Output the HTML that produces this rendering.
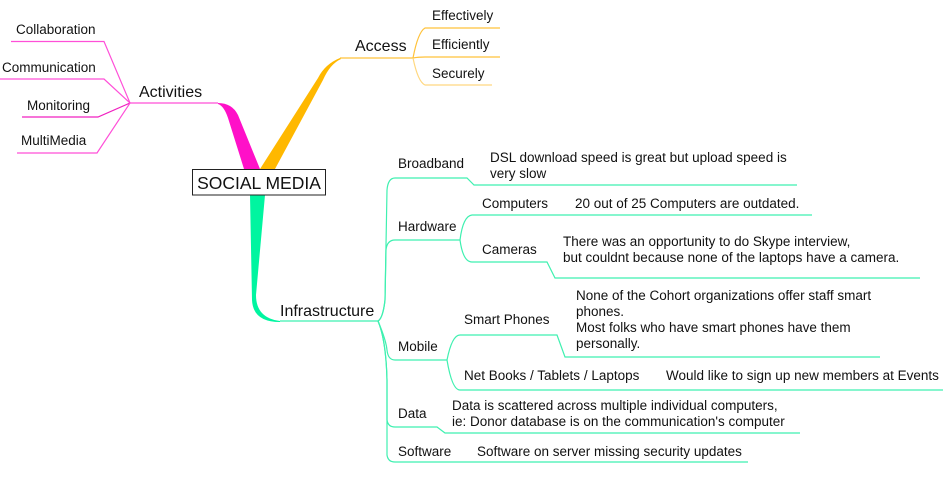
<!DOCTYPE html>
<html><head><meta charset="utf-8"><style>
body{margin:0;background:#fff;}
svg{display:block;font-family:"Liberation Sans",sans-serif;}
text{font-size:13.5px;fill:#111;}
</style></head><body>
<svg width="943" height="480" viewBox="0 0 943 480">
<g fill="none" stroke-width="1.2">
<g stroke="#ff4fd8">
<path d="M11,41.5 H104 L130,103"/>
<path d="M0,79 H104 L130,103"/>
<path d="M22,117 H98 L130,103" stroke="#f020c0"/>
<path d="M17,153 H97 L130,103"/>
<path d="M130,103 H218"/>
</g>
<g stroke="#ffc23a">
<path d="M340,58 H413"/>
<path d="M413,58 Q418,32 425,28 H500"/>
<path d="M413,58 Q418,57 425,57 H500"/>
<path d="M413,58 Q418,82 425,85 H492" stroke="#ffd880"/>
</g>
<g stroke="#3ff0b0">
<path d="M280,321 H378"/>
<path d="M378,321 Q383,318 385,300 L387,190 Q388,178 395,178 H467 L474,185 H797"/>
<path d="M378,321 Q383,318 385,300 L386,250 Q387,240 395,240 H460"/>
<path d="M460,240 Q463,216 472,215 H812"/>
<path d="M460,240 Q463,262 472,262 H547 L555,278 H920"/>
<path d="M378,321 Q386,340 387,350 Q388,360 395,360 H447"/>
<path d="M447,360 Q452,335 460,335 H557 L565,357 H880"/>
<path d="M447,360 Q452,390 460,390 H943"/>
<path d="M378,321 Q386,340 387,380 L387,420 Q388,427 395,427 H437 L445,433 H800"/>
<path d="M378,321 Q386,340 387,380 L387,455 Q388,462 395,462 H748"/>
</g>
</g>
<path d="M218,103 Q232,103 238,115 L260,169 L244,169 L228,118 Q224,106 218,104 Z" fill="#ff10c8"/>
<path d="M260,169 L318,78 Q325,64 340,58 L341,59 Q330,64 323,80 L275,169 Z" fill="#ffb800"/>
<path d="M250,195 L265,195 L256,295 Q256,318 280,321 L280,322 Q253,322 252,300 Z" fill="#00f5a0"/>
<rect x="192.5" y="169.5" width="133" height="25.5" fill="#fff" stroke="#222" stroke-width="1"/>
<text x="259" y="189" text-anchor="middle" style="font-size:17.5px">SOCIAL MEDIA</text>
<text x="139" y="97" style="font-size:16px">Activities</text>
<text x="355" y="51" style="font-size:16px">Access</text>
<text x="280" y="316" style="font-size:16px">Infrastructure</text>
<text x="16" y="34">Collaboration</text>
<text x="2" y="72">Communication</text>
<text x="27" y="110">Monitoring</text>
<text x="21" y="145">MultiMedia</text>
<text x="432" y="20">Effectively</text>
<text x="432" y="49">Efficiently</text>
<text x="432" y="78">Securely</text>
<text x="398" y="168">Broadband</text>
<text x="490" y="162">DSL download speed is great but upload speed is</text>
<text x="490" y="178">very slow</text>
<text x="398" y="231">Hardware</text>
<text x="482" y="208">Computers</text>
<text x="575" y="208">20 out of 25 Computers are outdated.</text>
<text x="482" y="254">Cameras</text>
<text x="563" y="246">There was an opportunity to do Skype interview,</text>
<text x="563" y="262">but couldnt because none of the laptops have a camera.</text>
<text x="398" y="351">Mobile</text>
<text x="464" y="324">Smart Phones</text>
<text x="576" y="300">None of the Cohort organizations offer staff smart</text>
<text x="576" y="316">phones.</text>
<text x="576" y="332">Most folks who have smart phones have them</text>
<text x="576" y="348">personally.</text>
<text x="464" y="380">Net Books / Tablets / Laptops</text>
<text x="666" y="380">Would like to sign up new members at Events</text>
<text x="398" y="418">Data</text>
<text x="452" y="410">Data is scattered across multiple individual computers,</text>
<text x="452" y="426">ie: Donor database is on the communication's computer</text>
<text x="398" y="456">Software</text>
<text x="477" y="456">Software on server missing security updates</text>
</svg>
</body></html>
